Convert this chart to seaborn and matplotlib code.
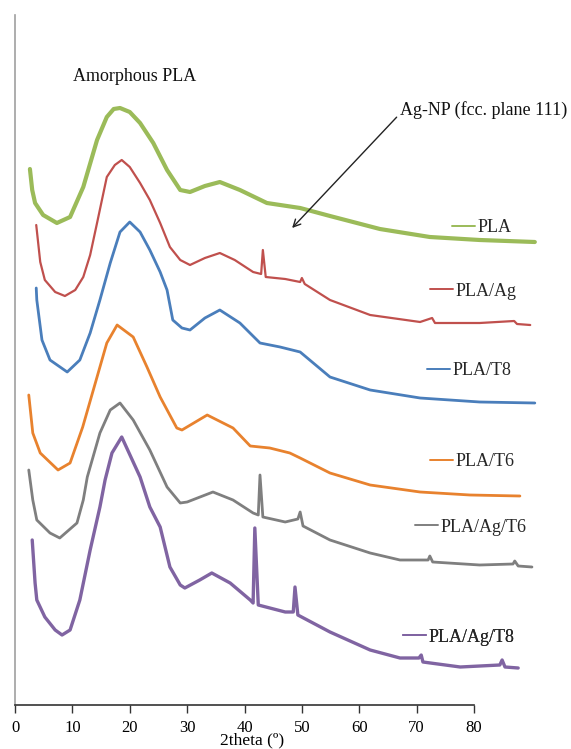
import numpy as np
import pandas as pd
import matplotlib
matplotlib.use("Agg")
import matplotlib.pyplot as plt
import seaborn as sns

# ---- data (2theta in degrees, intensity in a.u.) ----
pla_x = [2.6, 3.0, 3.5, 4.9, 7.3, 9.6, 11.9, 14.3, 16.0, 17.2, 18.3, 20.0, 21.8, 24.1, 26.5,
         28.8, 30.5, 33.1, 35.7, 39.2, 43.9, 49.7, 54.9, 63.6, 72.3, 81.0, 90.6]
pla_y = [536, 515, 502, 490, 482, 488, 518, 565, 588, 596, 597, 593, 582, 562, 535,
         515, 513, 519, 523, 515, 502, 497, 489, 476, 468, 465, 463]

plaag_x = [3.7, 4.4, 5.2, 7.0, 8.7, 10.5, 11.9, 13.1, 14.3, 16.0, 17.4, 18.6, 20.0, 21.8,
           23.5, 25.3, 27.0, 28.8, 30.5, 33.1, 35.7, 38.3, 41.5, 42.9, 43.2, 43.7, 47.1,
           49.7, 50.0, 50.5, 54.9, 61.9, 70.6, 72.7, 73.2, 81.0, 87.0, 87.5, 89.8]
plaag_y = [480, 443, 425, 413, 409, 415, 428, 450, 482, 528, 540, 545, 538, 522,
           505, 482, 458, 445, 440, 447, 452, 445, 433, 431, 455, 428, 426,
           423, 427, 421, 405, 390, 383, 387, 382, 382, 384, 381, 380]

plat8_x = [3.7, 3.8, 4.7, 6.1, 9.1, 11.3, 13.1, 14.8, 16.6, 18.3, 20.0, 21.8, 23.5, 25.3,
           26.5, 27.5, 29.1, 30.5, 33.1, 35.7, 39.2, 42.7, 46.2, 49.7, 54.9, 61.9, 70.6,
           81.0, 90.6]
plat8_y = [417, 405, 365, 345, 333, 345, 372, 405, 442, 473, 483, 473, 455, 433,
           415, 385, 377, 375, 387, 395, 382, 362, 358, 353, 328, 315, 307,
           303, 302]

plat6_x = [2.4, 3.1, 4.4, 7.5, 9.6, 11.8, 14.3, 16.0, 17.8, 20.6, 23.0, 25.3, 28.2, 29.1,
           33.5, 38.0, 41.0, 44.4, 47.9, 49.7, 54.9, 61.9, 70.6, 79.3, 88.0]
plat6_y = [310, 272, 252, 235, 242, 278, 328, 362, 380, 368, 338, 308, 277, 275,
           290, 277, 259, 257, 252, 247, 232, 220, 213, 210, 209]

plaagt6_x = [2.4, 3.1, 3.8, 6.1, 7.8, 10.8, 11.9, 12.6, 14.8, 16.6, 18.3, 20.6, 23.5, 26.5,
             28.8, 30.0, 34.5, 38.0, 41.5, 42.4, 42.7, 43.2, 47.1, 49.3, 49.7, 50.2,
             54.9, 61.9, 67.1, 72.0, 72.3, 72.8, 81.0, 86.8, 87.1, 87.7, 90.1]
plaagt6_y = [235, 205, 185, 172, 167, 182, 205, 228, 272, 295, 302, 285, 255, 218,
             202, 203, 213, 205, 192, 190, 230, 188, 183, 186, 193, 179,
             165, 152, 145, 145, 149, 143, 140, 141, 144, 139, 138]

plaagt8_x = [3.0, 3.5, 3.8, 5.2, 7.0, 8.2, 9.6, 11.3, 13.1, 14.8, 15.7, 16.9, 18.6, 21.8,
             23.5, 25.3, 27.0, 28.8, 29.6, 32.2, 34.3, 37.5, 41.0, 41.5, 41.8, 42.4,
             47.1, 48.5, 48.8, 49.3, 54.9, 61.9, 67.1, 70.4, 70.8, 71.1, 77.6, 84.5,
             84.9, 85.4, 87.7]
plaagt8_y = [165, 122, 105, 88, 75, 70, 75, 105, 155, 198, 225, 252, 268, 228,
             198, 178, 138, 120, 117, 125, 132, 122, 105, 102, 177, 100,
             93, 93, 118, 90, 73, 55, 47, 47, 50, 43, 38, 40,
             45, 38, 37]

names = ["PLA", "PLA/Ag", "PLA/T8", "PLA/T6", "PLA/Ag/T6", "PLA/Ag/T8"]
xs = [pla_x, plaag_x, plat8_x, plat6_x, plaagt6_x, plaagt8_x]
ys = [pla_y, plaag_y, plat8_y, plat6_y, plaagt6_y, plaagt8_y]
colors = ["#9BBB59", "#C0504D", "#4A7EBB", "#E8822E", "#7F7F7F", "#8064A2"]
widths = [3.0, 1.6, 2.0, 2.0, 2.0, 2.4]

# label anchor positions (figure pixels, left/center of legend key)
label_pos = [(452, 228), (430, 291), (427, 371), (430, 462), (415, 527), (403, 637)]

W, H = 571, 749
sns.set_theme(style="white")
plt.rcParams["font.family"] = ["Liberation Serif", "DejaVu Serif"]

fig = plt.figure(figsize=(W / 100, H / 100), dpi=100)
ax = fig.add_axes([15 / W, 44 / H, 1 - 15 / W, 690 / H])

for x, y, c, lw in zip(xs, ys, colors, widths):
    sns.lineplot(x=x, y=y, color=c, lw=lw, ax=ax, legend=False)

ax.set_xlim(0, (W - 15) / 5.7375)
ax.set_ylim(0, 690)
ax.set_yticks([])
ax.set_xticks(range(0, 81, 10))
ax.tick_params(axis="x", direction="out", length=6, width=1, color="#333333",
               labelsize=12, pad=5, labelcolor="black", bottom=True)
for s in ["top", "right"]:
    ax.spines[s].set_visible(False)
ax.spines["bottom"].set_bounds(0, 80)
ax.spines["bottom"].set_color("#333333")
ax.spines["bottom"].set_linewidth(1.2)
ax.spines["left"].set_color("#A0A0A0")
ax.spines["left"].set_linewidth(1.2)

ax.set_xlabel("2theta (º)", fontsize=12.5, color="black")
ax.xaxis.set_label_coords(0.427, -0.040)

# series labels with short key lines
for name, c, (px, py) in zip(names, colors, label_pos):
    h = plt.Line2D([], [], color=c, lw=1.4)
    leg = ax.legend([h], [name], loc="center left",
                    bbox_to_anchor=(px / W, 1 - py / H), bbox_transform=fig.transFigure,
                    frameon=False, fontsize=13, handlelength=1.25, handletextpad=0.15,
                    borderpad=0, borderaxespad=0)
    ax.add_artist(leg)

ax.text(10.1, 628, "Amorphous PLA", fontsize=13, ha="left", va="center", color="#111111")
ax.annotate("Ag-NP (fcc. plane 111)", xy=(48.3, 477), xytext=(67.1, 595),
            fontsize=13, ha="left", va="center", color="#111111",
            arrowprops=dict(arrowstyle="->", color="#222222", lw=1.0,
                            shrinkA=0, shrinkB=0, relpos=(-0.02, 0.1)))

fig.savefig("out.png", dpi=100)
